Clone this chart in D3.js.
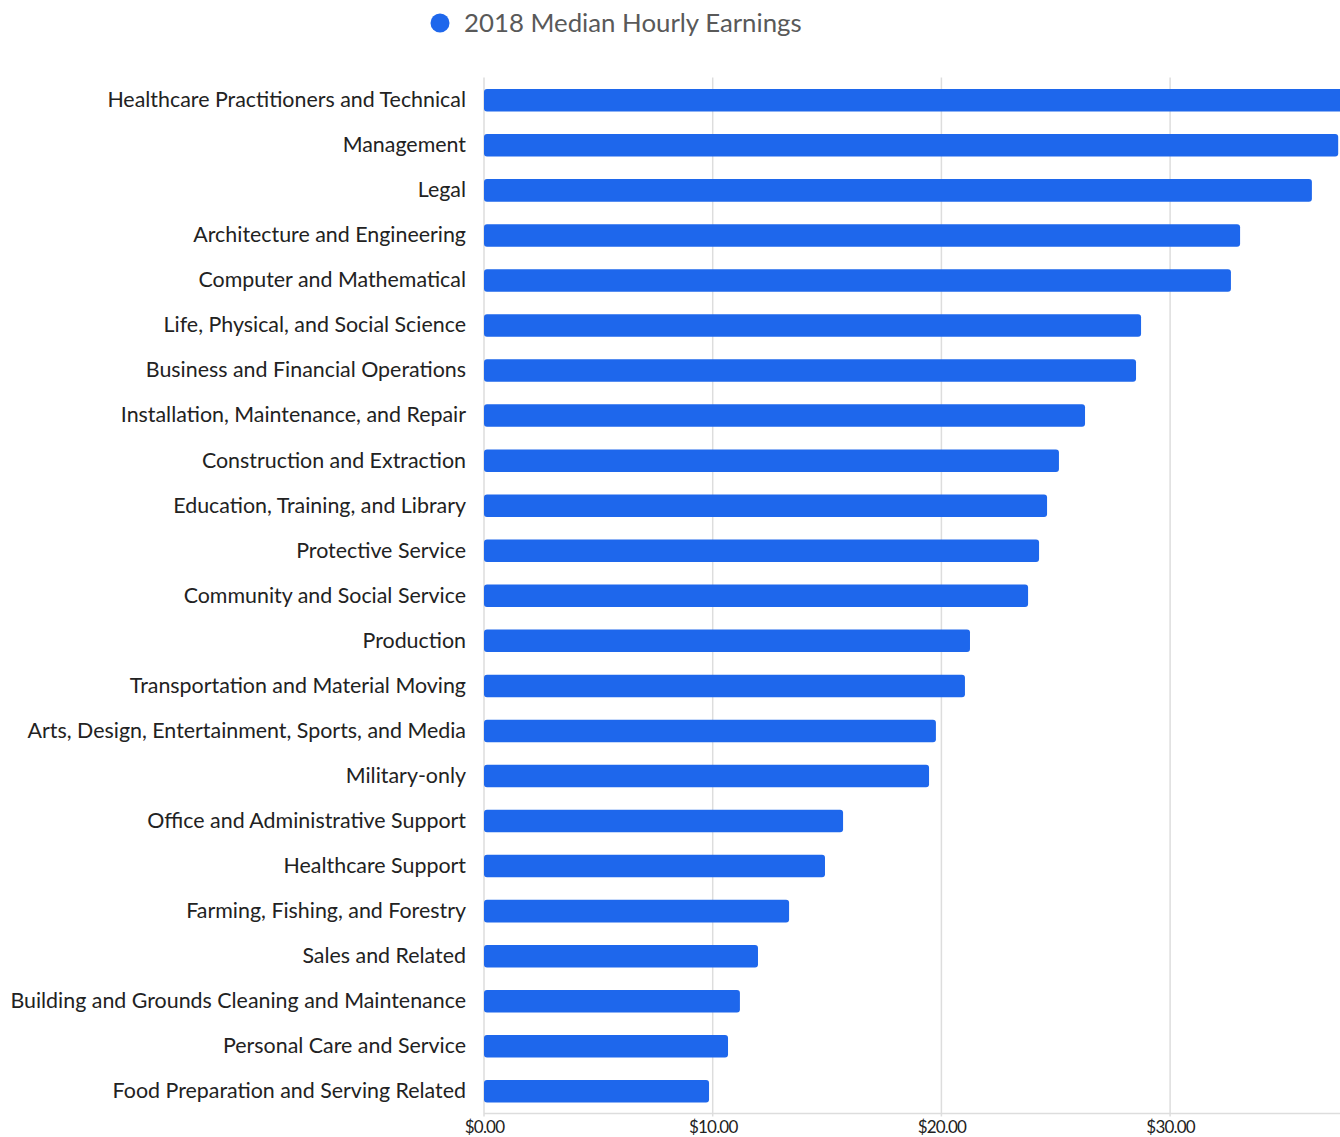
<!DOCTYPE html>
<html>
<head>
<meta charset="utf-8">
<script src="https://cdn.jsdelivr.net/npm/d3@7"></script>
<style>
  html, body { margin: 0; padding: 0; background: #fff; overflow: hidden; }
  svg { display: block; font-family: Lato, "Open Sans", sans-serif; }
</style>
</head>
<body>
<svg id="chart" width="1340" height="1137"></svg>
<script>
const categories = [
  "Healthcare Practitioners and Technical",
  "Management",
  "Legal",
  "Architecture and Engineering",
  "Computer and Mathematical",
  "Life, Physical, and Social Science",
  "Business and Financial Operations",
  "Installation, Maintenance, and Repair",
  "Construction and Extraction",
  "Education, Training, and Library",
  "Protective Service",
  "Community and Social Service",
  "Production",
  "Transportation and Material Moving",
  "Arts, Design, Entertainment, Sports, and Media",
  "Military-only",
  "Office and Administrative Support",
  "Healthcare Support",
  "Farming, Fishing, and Forestry",
  "Sales and Related",
  "Building and Grounds Cleaning and Maintenance",
  "Personal Care and Service",
  "Food Preparation and Serving Related"
];
const earnings = [
  38.5, 37.35, 36.2, 33.06, 32.66, 28.73, 28.51, 26.28, 25.14, 24.62,
  24.27, 23.79, 21.25, 21.03, 19.76, 19.46, 15.70, 14.91, 13.34, 11.98,
  11.19, 10.67, 9.84
];
const tickValues = [0, 10, 20, 30];
const seriesName = "2018 Median Hourly Earnings";

(function () {
const svg = d3.select("#chart");
const plotLeft = 484, plotTop = 77.5, plotBottom = 1112.5;
const pxPer10 = 228.7;

const x = d3.scaleLinear().domain([0, 10]).range([plotLeft, plotLeft + pxPer10]);
const y = d3.scaleBand().domain(categories).range([plotTop + 0.8, plotBottom + 0.8])
  .paddingInner(0.5).paddingOuter(0.238);

const color = "#1e67ec";

// gridlines
svg.append("g").selectAll("line").data(tickValues).join("line")
  .attr("x1", d => x(d)).attr("x2", d => x(d))
  .attr("y1", plotTop).attr("y2", plotBottom + 4)
  .attr("stroke", "#dddddd").attr("stroke-width", 1.5);

// bottom axis line
svg.append("line")
  .attr("x1", plotLeft).attr("x2", 1340)
  .attr("y1", plotBottom + 1).attr("y2", plotBottom + 1)
  .attr("stroke", "#dddddd").attr("stroke-width", 1.5);

// tick labels via d3 axis
const xAxis = d3.axisBottom(x).tickValues(tickValues)
  .tickFormat(d => "$" + d3.format(".2f")(d)).tickSize(0).tickPadding(7);
const gx = svg.append("g").attr("transform", `translate(0,${plotBottom + 1})`).call(xAxis);
gx.select(".domain").remove();
gx.selectAll("text").attr("font-size", 17).attr("fill", "#222")
  .attr("letter-spacing", "-0.8").attr("font-family", "Lato, sans-serif");

// bars
svg.append("clipPath").attr("id", "plotclip")
  .append("rect").attr("x", plotLeft).attr("y", 0).attr("width", 1340 - plotLeft).attr("height", 1137);

svg.append("g").attr("clip-path", "url(#plotclip)")
  .selectAll("rect").data(categories).join("rect")
  .attr("x", x(0))
  .attr("y", d => y(d))
  .attr("width", (d, i) => x(earnings[i]) - x(0))
  .attr("height", y.bandwidth())
  .attr("rx", 3).attr("ry", 3)
  .attr("fill", color);

// category labels
const yAxis = d3.axisLeft(y).tickSize(0).tickPadding(18);
const gy = svg.append("g").attr("transform", `translate(${plotLeft},0)`).call(yAxis);
gy.select(".domain").remove();
gy.selectAll("text").attr("font-size", 21.4).attr("fill", "#222")
  .attr("font-family", "Lato, sans-serif");

// legend
const legend = svg.append("g");
legend.append("circle").attr("cx", 440).attr("cy", 23).attr("r", 9.5).attr("fill", color);
legend.append("text").attr("x", 464).attr("y", 32)
  .attr("font-size", 25.8).attr("fill", "#595959")
  .attr("font-family", "Lato, sans-serif").text(seriesName);
})();
</script>
</body>
</html>
